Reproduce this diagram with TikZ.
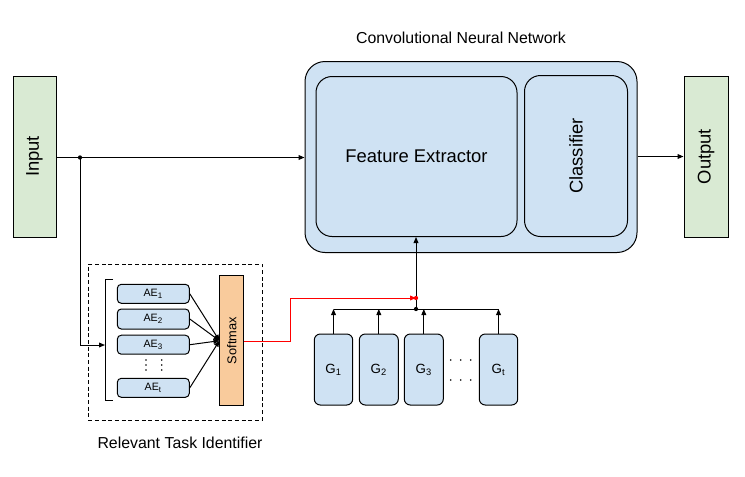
\documentclass[tikz,border=0pt]{standalone}
\usepackage{fontspec}
\setmainfont{Liberation Sans}
\usetikzlibrary{arrows.meta}
\definecolor{boxblue}{HTML}{CFE2F3}
\definecolor{boxgreen}{HTML}{D9EAD3}
\definecolor{boxorange}{HTML}{F9CB9C}
\definecolor{linkred}{HTML}{FF0000}
\tikzset{
  sz/.style 2 args={minimum width=#1*0.75pt, minimum height=#2*0.75pt, inner sep=0pt},
  base/.style={draw=black, line width=0.75pt},
  iobox/.style={base, fill=boxgreen, rectangle},
  cnnbox/.style={base, fill=boxblue, rounded corners=15pt},
  partbox/.style={base, fill=boxblue, rounded corners=12pt},
  aebox/.style={base, fill=boxblue, rounded corners=3pt, font=\fontsize{8}{9}\selectfont},
  gbox/.style={base, fill=boxblue, rounded corners=4.5pt, font=\fontsize{10}{12}\selectfont},
  smbox/.style={base, fill=boxorange, rectangle},
  bigtxt/.style={font=\fontsize{13.8}{16}\selectfont, inner sep=0pt},
  captxt/.style={font=\fontsize{11.9}{14}\selectfont, inner sep=0pt},
  wire/.style={line width=0.75pt, draw=black},
  arr/.style={wire, -{Triangle[length=4.5pt,width=3.6pt]}},
  redarr/.style={line width=0.75pt, draw=linkred, -{Triangle[length=4.5pt,width=3.6pt]}},
  dot/.style={circle, fill=black, inner sep=0pt, minimum size=3.2pt},
  tinydot/.style={circle, fill=black, inner sep=0pt, minimum size=1.3pt},
}
\begin{document}
\begin{tikzpicture}[x=0.75pt, y=-0.75pt]
\useasboundingbox (0,0) rectangle (745,476);

% input / output blocks
\node[iobox, sz={43}{161}] (in) at (34.5,156.5) {};
\node[bigtxt, rotate=90] (intxt) at (in) {Input};
\node[iobox, sz={44}{161}] (out) at (706,156.5) {};
\node[bigtxt, rotate=90] (outtxt) at (out) {Output};

% convolutional network with its two parts
\node[cnnbox, sz={332}{191}] (cnn) at (471,157) {};
\node[captxt] (cnntitle) at (461,38) {Convolutional Neural Network};
\node[partbox, sz={201}{160}] (fe) at (416.5,156.5) {};
\node[bigtxt] (fetxt) at (fe) {Feature Extractor};
\node[partbox, sz={103}{161}] (cls) at (576,156) {};
\node[bigtxt, rotate=90] (clstxt) at (cls) {Classifier};

% main data path
\coordinate (split) at (80,157.5);
\draw[arr] (in.east |- split) -- (cnn.west |- split);
\node[dot] (splitdot) at (split) {};
\draw[arr] (cnn.east |- out) -- (out.west);

% relevant task identifier
\node[draw=black, line width=0.75pt, dashed, dash pattern=on 3pt off 2pt, sz={174}{156}] (rti) at (175.3,342) {};
\node[captxt] (rtitxt) at (180,443) {Relevant Task Identifier};

\node[aebox, sz={72}{19}] (ae1) at (153.3,293.8) {AE\textsubscript{1}};
\node[aebox, sz={72}{20}] (ae2) at (153.3,319) {AE\textsubscript{2}};
\node[aebox, sz={72}{19}] (ae3) at (153.3,344.7) {AE\textsubscript{3}};
\node[aebox, sz={72}{19}] (aet) at (153.3,387.8) {AE\textsubscript{t}};
\foreach \dx in {146,161.7}{
  \foreach \dy in {360,365,370}{
    \node[tinydot] at (\dx,\dy) {};
  }
}

\node[smbox, sz={23.5}{130}] (sm) at (231.7,340.7) {};
\node[font=\fontsize{9.6}{11}\selectfont, rotate=90, inner sep=0pt] (smtxt) at (sm) {Softmax};

% bracket gathering the autoencoders
\coordinate (brtop) at (113,279.5);
\coordinate (brbot) at (113,400);
\coordinate (brin) at (105,345);
\draw[wire] (brtop) -- (105,279.5) -- (105,400) -- (brbot);
\draw[arr] (split) |- (brin);

\foreach \a in {ae1,ae2,ae3,aet}{
  \draw[wire, -{Triangle[length=4.5pt,width=3.6pt]}] (\a.east) -- (sm.west);
}

% generators
\node[gbox, sz={38.4}{71}] (g1) at (333.5,369.5) {G\textsubscript{1}};
\node[gbox, sz={39}{71}] (g2) at (378.8,369.5) {G\textsubscript{2}};
\node[gbox, sz={39}{71}] (g3) at (423.8,369.5) {G\textsubscript{3}};
\node[gbox, sz={38.4}{71}] (gt) at (498.5,369.5) {G\textsubscript{t}};
\foreach \dx in {450.7,460.7,470.7}{
  \foreach \dy in {360,380}{
    \node[tinydot] at (\dx,\dy) {};
  }
}

\coordinate (gj) at (416,309);
\coordinate (rj) at (416,298);
\draw[wire] (g1.north |- gj) -- (gt.north |- gj);
\foreach \g in {g1,g2,g3,gt}{
  \draw[arr] (\g.north) -- (\g.north |- gj);
}
\draw[arr] (gj) -- (gj |- fe.south);
\node[dot] (gjdot) at (gj) {};

% selection signal from the identifier
\draw[redarr] (sm.east |- 0,341) -- (290.7,341) -- (290.7,298) -- (rj);
\node[dot, fill=linkred] (rjdot) at (rj) {};
\end{tikzpicture}
\end{document}
